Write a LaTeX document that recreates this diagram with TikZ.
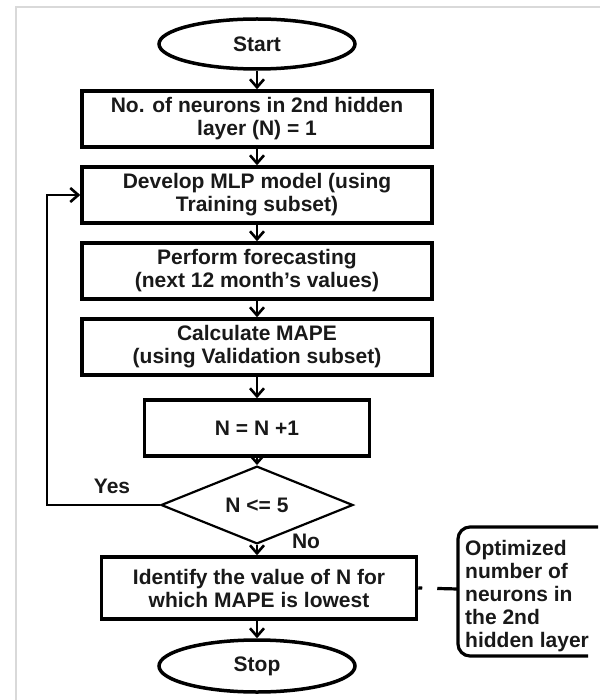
\documentclass[tikz,border=0pt]{standalone}
\usepackage{fontspec}
\setmainfont{Liberation Sans}
\usetikzlibrary{shapes.geometric,arrows.meta}
\begin{document}
\begin{tikzpicture}[x=1pt,y=-1pt,
  every node/.style={font=\bfseries\fontsize{21pt}{23pt}\selectfont, text=black!90, inner sep=0pt},
  procbox/.style={draw, line width=3.5pt, rectangle, minimum height=56pt, align=center},
  terminal/.style={draw, line width=3.5pt, ellipse, minimum width=196pt, minimum height=50pt},
  decision/.style={draw, line width=2.2pt, diamond, minimum width=192pt, minimum height=54pt},
  flow/.style={line width=2.6pt, -{Straight Barb[length=8pt,width=14pt,line width=2.6pt]}},
  note/.style={align=left, anchor=west}
]
\useasboundingbox (0,0) rectangle (600,700);
% light frame
\draw[line width=2.2pt, black!15] (16,700) -- (16,7) -- (600,7);

% main chain
\node[terminal] (start) at (257,44) {Start};
\node[procbox, minimum width=350pt] (b1) at (257,119) {No. of neurons in 2nd hidden\\layer (N) = 1};
\node[procbox, minimum width=350pt] (b2) at (257,195) {Develop MLP model (using\\Training subset)};
\node[procbox, minimum width=350pt] (b3) at (257,271) {Perform forecasting\\(next 12 month’s values)};
\node[procbox, minimum width=350pt] (b4) at (257,347) {Calculate MAPE\\(using Validation subset)};
\node[procbox, minimum width=225pt] (bn) at (257,428) {N = N +1};
\node[decision] (dia) at (257,505) {N <= 5};
\node[procbox, minimum width=315pt, minimum height=62pt] (idf) at (259,588) {Identify the value of N for\\which MAPE is lowest};
\node[terminal, minimum height=52pt] (stop) at (257,666) {Stop};

\draw[flow] (start) -- (b1);
\draw[flow] (b1) -- (b2);
\draw[flow] (b2) -- (b3);
\draw[flow] (b3) -- (b4);
\draw[flow] (b4) -- (bn);
\draw[flow] (bn) -- (dia);
\draw[flow] (dia.south) -- (dia.south |- idf.north);
\draw[flow] (idf.south -| stop) -- (stop);

% loop back
\coordinate (loopx) at (47,0);
\draw[flow] (dia.west) -- (dia.west -| loopx) -- (b2.west -| loopx) -- (b2.west);
\node (yes) at (112,486) {Yes};
\node (no) at (306,541) {No};

% annotation bracket
\coordinate (brk) at (458,589);
\draw[line width=3.2pt, rounded corners=12pt] (598,527) -- (458,527) -- (458,656) -- (588,656);
\draw[line width=3.2pt, dash pattern=on 4pt off 15pt on 22pt] (idf.east) -- (brk);
\node[note] (txt) at (465,596) {Optimized\\number of\\neurons in\\the 2nd\\hidden layer};
\end{tikzpicture}
\end{document}
